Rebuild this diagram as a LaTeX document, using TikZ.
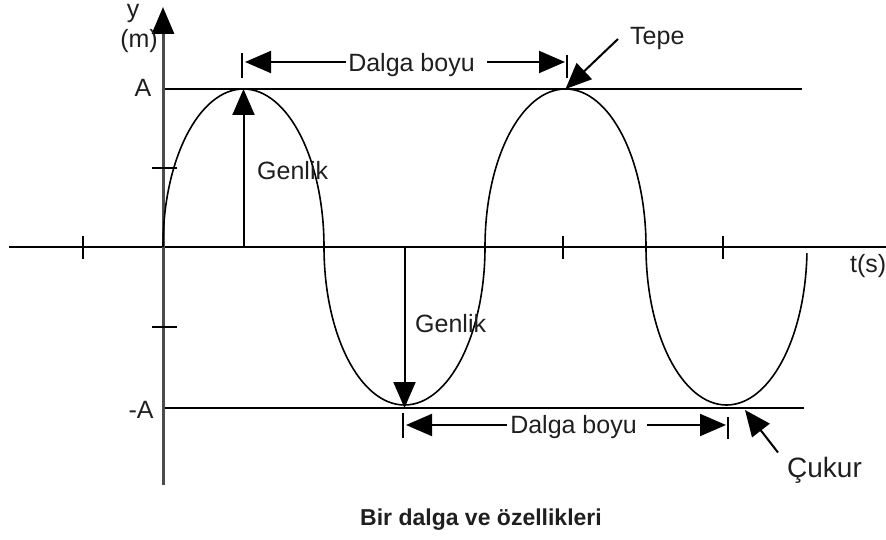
\documentclass[tikz,border=0pt]{standalone}
\usepackage{fontspec}
\setmainfont{Liberation Sans}
\usetikzlibrary{arrows.meta}
\begin{document}
\begin{tikzpicture}[x=1pt,y=-1pt,
  lbl/.style={inner sep=0pt, font=\fontsize{25}{30}\selectfont, text=black!88},
  arr/.style={line width=2pt, -{Triangle[length=26pt,width=22pt]}},
  thin line/.style={line width=2pt},
  curve/.style={line width=1.6pt},
  axisy/.style={line width=3pt, draw=black!70, -{Triangle[length=27pt,width=22pt,color=black,fill=black]}},
  bar/.style={line width=2pt}]
\useasboundingbox (0,0) rectangle (886,540);
% key points
\coordinate (O) at (163,247);
\coordinate (P1) at (243.5,89);
\coordinate (T1) at (404.5,408);
\coordinate (P2) at (565.5,89);
\coordinate (T2) at (726.5,408);
\coordinate (yb) at (163,485);
\coordinate (yt) at (163,7);
\coordinate (xl) at (9,247);
\coordinate (xr) at (886,247);
\coordinate (Al) at (163,89);
\coordinate (Ar) at (802,89);
\coordinate (Bl) at (163,408);
\coordinate (Br) at (804,408);
\coordinate (g1) at (243.5,247);
\coordinate (g2) at (404.5,247);
\coordinate (ltip) at (245,62);
\coordinate (rtip) at (565,62);
\coordinate (bltip) at (406,425);
\coordinate (brtip) at (726,425);
\coordinate (cuktip) at (745,410);
% reference lines and axes
\draw[thin line] (Al) -- (Ar);
\draw[thin line] (Bl) -- (Br);
\draw[line width=2.2pt] (xl) -- (xr);
\draw[axisy] (yb) -- (yt);
% ticks
\foreach \tx in {83,563,723} \draw[line width=2pt] (\tx,236) -- (\tx,259);
\foreach \ty in {168,327} \draw[line width=2pt] (152,\ty) -- (177,\ty);
% wave
\draw[curve] (O) arc[start angle=180,end angle=360,x radius=80.5,y radius=158]
  arc[start angle=180,end angle=0,x radius=80.5,y radius=158]
  arc[start angle=180,end angle=360,x radius=80.5,y radius=158]
  arc[start angle=180,end angle=2.2,x radius=80.5,y radius=158];
% amplitude arrows
\draw[arr] (g1) -- (P1);
\draw[arr] (g2) -- (T1);
% labels
\node[lbl,anchor=base] (ylab) at (133,18) {y};
\node[lbl,anchor=base] (mlab) at (139,48) {(m)};
\node[lbl,anchor=base] (alab) at (143,97) {A};
\node[lbl,anchor=base] (malab) at (141,418) {-A};
\node[lbl,anchor=base west] (tlab) at (850,272) {t(s)};
\node[lbl,anchor=base west] (gen1) at (257,180) {Genlik};
\node[lbl,anchor=base west] (gen2) at (415,332) {Genlik};
\node[lbl,anchor=base west] (tepe) at (630,45) {Tepe};
\node[lbl,anchor=base west,font=\fontsize{28}{32}\selectfont] (cukur) at (787,477) {Çukur};
\node[lbl,anchor=base] (dtop) at (411.5,72) {Dalga boyu};
\node[lbl,anchor=base] (dbot) at (573.5,433) {Dalga boyu};
\node[inner sep=0pt, font=\fontsize{23}{28}\selectfont\bfseries, text=black!88, anchor=base] (cap) at (481,525) {Bir dalga ve özellikleri};
% wavelength arrows
\draw[arr] ([xshift=-2pt]dtop.west |- ltip) -- (ltip);
\draw[arr] ([xshift=12pt]dtop.east |- rtip) -- (rtip);
\draw[bar] (242,53) -- (242,78);
\draw[bar] (567,55) -- (567,78);
\draw[arr] ([xshift=-3pt]dbot.west |- bltip) -- (bltip);
\draw[arr] ([xshift=10pt]dbot.east |- brtip) -- (brtip);
\draw[bar] (403,413) -- (403,438);
\draw[bar] (728,417) -- (728,439);
% pointer arrows
\draw[arr] ([xshift=-12pt]tepe.west) -- (P2);
\draw[arr] ([xshift=-9pt,yshift=4pt]cukur.north west) -- (cuktip);
\end{tikzpicture}
\end{document}
